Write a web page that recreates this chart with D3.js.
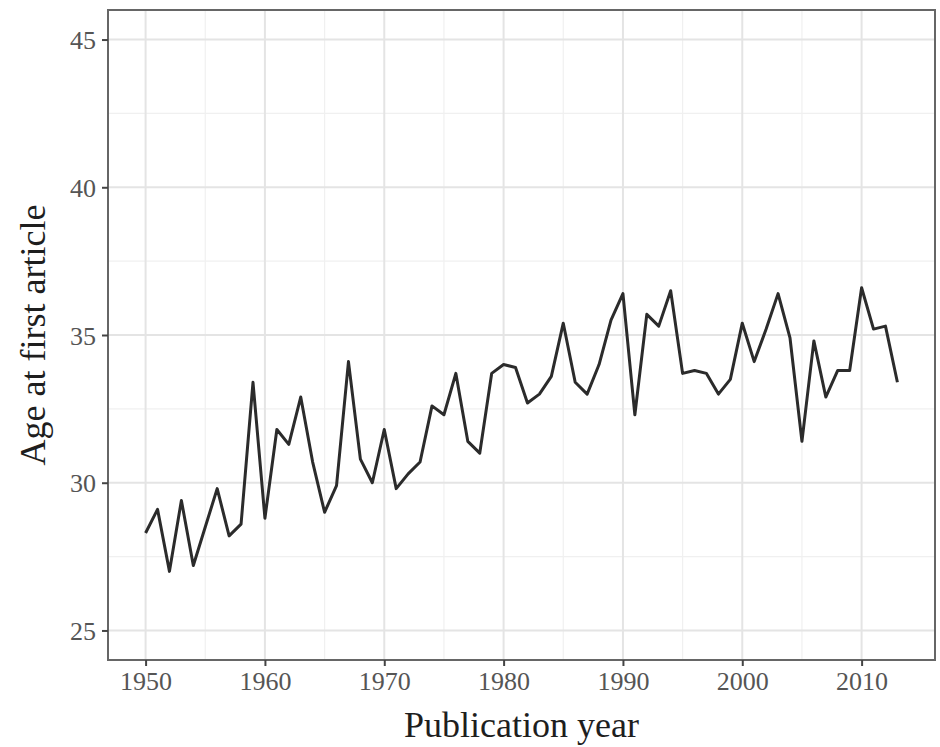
<!DOCTYPE html>
<html>
<head>
<meta charset="utf-8">
<script src="https://cdn.jsdelivr.net/npm/d3@7"></script>
<style>
  body { margin: 0; background: #fff; }
  svg { display: block; }
</style>
</head>
<body>
<div id="chart"></div>
<script>
// data
const years = d3.range(1950, 2014);
const ages = [
  28.3, 29.1, 27.0, 29.4, 27.2, 28.5, 29.8, 28.2, 28.6, 33.4,
  28.8, 31.8, 31.3, 32.9, 30.7, 29.0, 29.9, 34.1, 30.8, 30.0,
  31.8, 29.8, 30.3, 30.7, 32.6, 32.3, 33.7, 31.4, 31.0, 33.7,
  34.0, 33.9, 32.7, 33.0, 33.6, 35.4, 33.4, 33.0, 34.0, 35.5,
  36.4, 32.3, 35.7, 35.3, 36.5, 33.7, 33.8, 33.7, 33.0, 33.5,
  35.4, 34.1, 35.2, 36.4, 34.9, 31.4, 34.8, 32.9, 33.8, 33.8,
  36.6, 35.2, 35.3, 33.4
];
const xTicks = [1950, 1960, 1970, 1980, 1990, 2000, 2010];
const yTicks = [25, 30, 35, 40, 45];
const xMinor = [1955, 1965, 1975, 1985, 1995, 2005];
const yMinor = [27.5, 32.5, 37.5, 42.5];

const data = years.map((y, i) => ({ year: y, age: ages[i] }));

const width = 940, height = 747;
const margin = { top: 10, right: 5, bottom: 87, left: 108 };

const svg = d3.select("#chart")
  .append("svg")
  .attr("width", width)
  .attr("height", height)
  .style("font-family", "'Liberation Serif', 'DejaVu Serif', serif");

// ggplot style expansion: 5% each side
const xPad = (2013 - 1950) * 0.05;
const x = d3.scaleLinear()
  .domain([1950 - xPad, 2013 + xPad])
  .range([margin.left, width - margin.right]);

const y = d3.scaleLinear()
  .domain([24, 46])
  .range([height - margin.bottom, margin.top]);

const grid = svg.append("g");

// minor grid
grid.selectAll(".vminor").data(xMinor).join("line")
  .attr("x1", d => x(d)).attr("x2", d => x(d))
  .attr("y1", margin.top).attr("y2", height - margin.bottom)
  .attr("stroke", "#f0f0f0").attr("stroke-width", 1.2);
grid.selectAll(".hminor").data(yMinor).join("line")
  .attr("y1", d => y(d)).attr("y2", d => y(d))
  .attr("x1", margin.left).attr("x2", width - margin.right)
  .attr("stroke", "#f0f0f0").attr("stroke-width", 1.2);

// major grid
grid.selectAll(".vmajor").data(xTicks).join("line")
  .attr("x1", d => x(d)).attr("x2", d => x(d))
  .attr("y1", margin.top).attr("y2", height - margin.bottom)
  .attr("stroke", "#e4e4e4").attr("stroke-width", 2);
grid.selectAll(".hmajor").data(yTicks).join("line")
  .attr("y1", d => y(d)).attr("y2", d => y(d))
  .attr("x1", margin.left).attr("x2", width - margin.right)
  .attr("stroke", "#e4e4e4").attr("stroke-width", 2);

// the line
const line = d3.line()
  .x(d => x(d.year))
  .y(d => y(d.age));

svg.append("path")
  .datum(data)
  .attr("fill", "none")
  .attr("stroke", "#2b2b2b")
  .attr("stroke-width", 3)
  .attr("stroke-linejoin", "round")
  .attr("d", line);

// panel border
svg.append("rect")
  .attr("x", margin.left)
  .attr("y", margin.top)
  .attr("width", width - margin.left - margin.right)
  .attr("height", height - margin.top - margin.bottom)
  .attr("fill", "none")
  .attr("stroke", "#666")
  .attr("stroke-width", 2);

// axes
const xAxis = svg.append("g")
  .attr("transform", `translate(0,${height - margin.bottom})`)
  .call(d3.axisBottom(x).tickValues(xTicks).tickFormat(d3.format("d")).tickSize(6).tickPadding(6));

const yAxis = svg.append("g")
  .attr("transform", `translate(${margin.left},0)`)
  .call(d3.axisLeft(y).tickValues(yTicks).tickSize(6).tickPadding(6));

[xAxis, yAxis].forEach(ax => {
  ax.select(".domain").remove();
  ax.selectAll(".tick line").attr("stroke", "#444").attr("stroke-width", 2);
  ax.selectAll(".tick text")
    .attr("fill", "#555")
    .style("font-family", "'Liberation Serif', serif")
    .style("font-size", "26px");
});
yAxis.selectAll(".tick text").attr("dy", "0.35em");

// axis titles
svg.append("text")
  .attr("x", (margin.left + width - margin.right) / 2)
  .attr("y", 737)
  .attr("text-anchor", "middle")
  .attr("fill", "#1e1e1e")
  .style("font-size", "36px")
  .text("Publication year");

svg.append("text")
  .attr("transform", `translate(45,${(margin.top + height - margin.bottom) / 2}) rotate(-90)`)
  .attr("text-anchor", "middle")
  .attr("fill", "#1e1e1e")
  .style("font-size", "36px")
  .text("Age at first article");
</script>
</body>
</html>
